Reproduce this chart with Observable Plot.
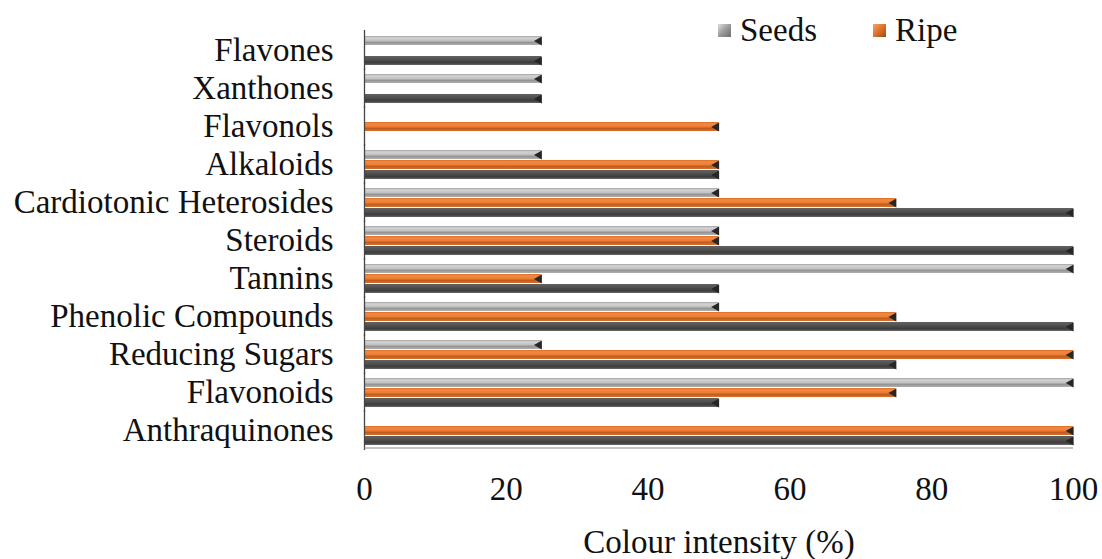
<!DOCTYPE html>
<html>
<head>
<meta charset="utf-8">
<script src="https://cdn.jsdelivr.net/npm/d3@7"></script>
<script src="https://cdn.jsdelivr.net/npm/@observablehq/plot@0.6"></script>
<style>
  html, body { margin: 0; padding: 0; background: #fff; }
  #wrap { position: relative; width: 1102px; height: 559px; font-family: "Liberation Serif", "Times New Roman", serif; }
  #legend { position: absolute; left: 718px; top: 12px; display: flex; gap: 56px; font-size: 33px; color: #111; }
  #legend .item { display: flex; align-items: center; gap: 9px; }
  #legend .sw { width: 13px; height: 13px; }
</style>
</head>
<body>
<div id="wrap"><div id="legend"></div></div>
<svg width="0" height="0" style="position:absolute">
  <defs>
    <linearGradient id="gSeeds" x1="0" y1="0" x2="0" y2="1">
      <stop offset="0" stop-color="#a0a0a0"/>
      <stop offset="0.2" stop-color="#d4d4d4"/>
      <stop offset="0.5" stop-color="#c2c2c2"/>
      <stop offset="0.72" stop-color="#959595"/>
      <stop offset="1" stop-color="#b0b0b0"/>
    </linearGradient>
    <linearGradient id="gRipe" x1="0" y1="0" x2="0" y2="1">
      <stop offset="0" stop-color="#dc6d24"/>
      <stop offset="0.2" stop-color="#f28a45"/>
      <stop offset="0.5" stop-color="#ed7d31"/>
      <stop offset="0.72" stop-color="#bf5e1e"/>
      <stop offset="1" stop-color="#d87030"/>
    </linearGradient>
    <linearGradient id="gUnripe" x1="0" y1="0" x2="0" y2="1">
      <stop offset="0" stop-color="#606060"/>
      <stop offset="0.2" stop-color="#5a5a5a"/>
      <stop offset="0.5" stop-color="#4a4a4a"/>
      <stop offset="0.75" stop-color="#3c3c3c"/>
      <stop offset="1" stop-color="#6a6a6a"/>
    </linearGradient>
  </defs>
</svg>
<script>
// Categories, top to bottom as drawn
const categories = ["Flavones", "Xanthones", "Flavonols", "Alkaloids", "Cardiotonic Heterosides", "Steroids", "Tannins", "Phenolic Compounds", "Reducing Sugars", "Flavonoids", "Anthraquinones"];
const series = ["Seeds", "Ripe", "Unripe"];
const seedsValues  = [25, 25, 0, 25, 50, 50, 100, 50, 25, 100, 0];
const ripeValues   = [0, 0, 50, 50, 75, 50, 25, 75, 100, 75, 100];
const unripeValues = [25, 25, 0, 50, 100, 100, 50, 100, 75, 50, 100];
const seriesFills = ["url(#gSeeds)", "url(#gRipe)", "url(#gUnripe)"];
const legendSeries = ["Seeds", "Ripe"];
const legendSwatches = ["linear-gradient(135deg,#e0e0e0 0%,#9a9a9a 50%,#6e6e6e 100%)", "linear-gradient(135deg,#f6a56c 0%,#e0702a 50%,#9c4a12 100%)"];
const xTicks = [0, 20, 40, 60, 80, 100];

const valuesBySeries = [seedsValues, ripeValues, unripeValues];
const data = [];
categories.forEach((c, i) => series.forEach((s, j) => data.push({category: c, series: s, value: valuesBySeries[j][i]})));

const font = '"Liberation Serif", "Times New Roman", serif';

const chart = Plot.plot({
  width: 1102,
  height: 559,
  marginLeft: 364,
  marginRight: 29,
  marginTop: 29,
  marginBottom: 107,
  style: {fontFamily: font, background: "transparent", color: "#111"},
  x: {domain: [0, 100]},
  y: {domain: series, axis: null, paddingInner: 0.1, paddingOuter: 0.03},
  fy: {domain: categories, paddingInner: 0.2, paddingOuter: 0.1},
  color: {domain: series, range: seriesFills},
  marks: [
    Plot.barX(data, {fy: "category", y: "series", x: "value", fill: "series"}),
    Plot.dot(data.filter(d => d.value > 0), {fy: "category", y: "series", x: "value", symbol: "triangle", rotate: -90, r: 3.4, dx: -2.5, fill: "#262626", stroke: "none"}),
    Plot.ruleX([0], {stroke: "#444", strokeWidth: 1.3, insetTop: -5, insetBottom: -5}),
    Plot.ruleY([{category: "Anthraquinones", series: "Unripe"}], {fy: "category", y: "series", x1: 0, x2: 100, dy: 7, stroke: "#8a8a8a", strokeWidth: 1.2}),
    Plot.axisX({ticks: xTicks, tickSize: 0, tickPadding: 31, fontSize: 33, label: "Colour intensity (%)", labelAnchor: "center", labelArrow: "none", labelOffset: 107}),
    Plot.axisFy({anchor: "left", tickSize: 0, tickPadding: 31, fontSize: 33, label: null})
  ]
});

const wrap = document.getElementById("wrap");
wrap.insertBefore(chart, wrap.firstChild);

const legend = document.getElementById("legend");
legendSeries.forEach((s, i) => {
  const item = document.createElement("div");
  item.className = "item";
  const sw = document.createElement("div");
  sw.className = "sw";
  sw.style.background = legendSwatches[i];
  const t = document.createElement("span");
  t.textContent = s;
  item.appendChild(sw);
  item.appendChild(t);
  legend.appendChild(item);
});
</script>
</body>
</html>
